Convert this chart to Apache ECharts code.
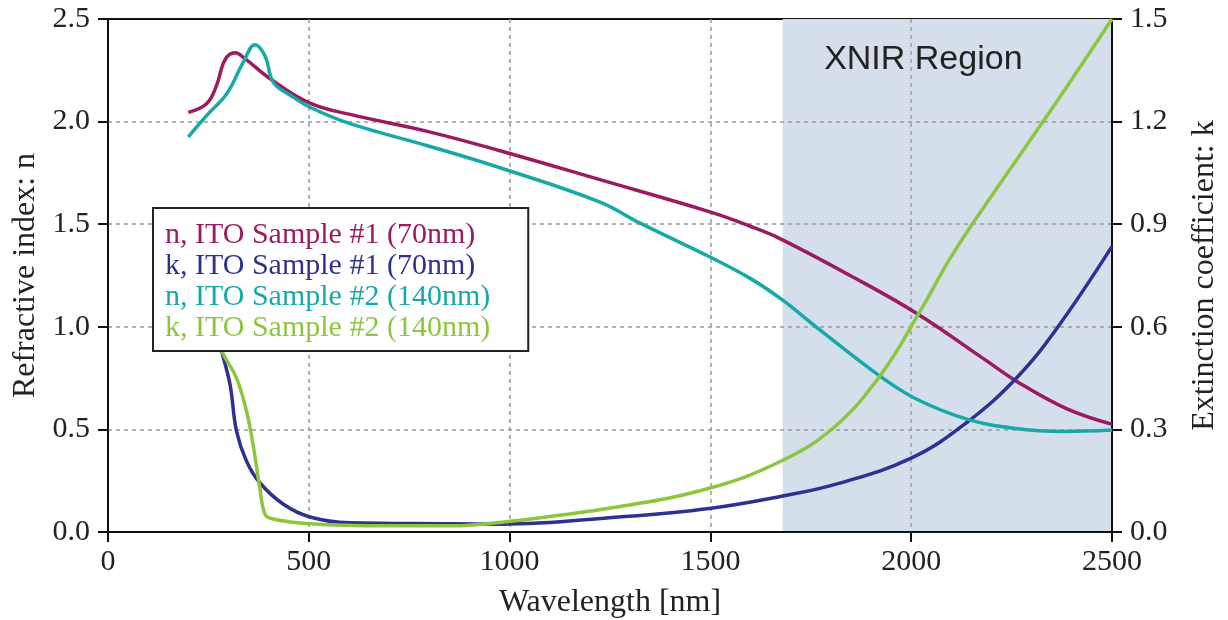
<!DOCTYPE html>
<html>
<head>
<meta charset="utf-8">
<script src="https://cdn.jsdelivr.net/npm/echarts@6/dist/echarts.min.js"></script>
<style>
  html, body { margin: 0; padding: 0; background: #fff; }
  #chart { width: 1228px; height: 620px; }
</style>
</head>
<body>
<div id="chart"></div>
<script>
// wavelength [nm] and values
var wlN1 = [200, 246, 271, 291, 316, 341, 403, 503, 603, 800, 976, 1225, 1499, 1599, 1673, 1848, 2014, 2179, 2263, 2388, 2500]
var n1 = [2.045, 2.088, 2.18, 2.30, 2.335, 2.307, 2.21, 2.09, 2.035, 1.95, 1.858, 1.717, 1.56, 1.49, 1.43, 1.25, 1.065, 0.846, 0.734, 0.60, 0.525]

var wlK1 = [265, 283, 304, 320, 345, 378, 436, 503, 603, 851, 976, 1272, 1497, 1674, 1813, 2000, 2136, 2261, 2363, 2500]
var k1 = [0.62, 0.53, 0.43, 0.295, 0.207, 0.144, 0.082, 0.044, 0.027, 0.024, 0.023, 0.044, 0.069, 0.104, 0.14, 0.216, 0.318, 0.449, 0.596, 0.835]

var wlN2 = [200, 246, 296, 337, 366, 391, 412, 453, 503, 603, 800, 976, 1225, 1325, 1499, 1599, 1680, 1763, 1922, 2014, 2139, 2255, 2380, 2500]
var n2 = [1.926, 2.03, 2.137, 2.29, 2.375, 2.32, 2.19, 2.13, 2.07, 1.99, 1.88, 1.775, 1.608, 1.505, 1.34, 1.236, 1.13, 1.0, 0.76, 0.647, 0.55, 0.506, 0.49, 0.497]

var wlK2 = [265, 283, 320, 345, 361, 378, 391, 411, 503, 685, 851, 976, 1272, 1497, 1674, 1806, 1922, 2022, 2097, 2191, 2346, 2500]
var k2 = [0.60, 0.53, 0.45, 0.353, 0.257, 0.129, 0.052, 0.038, 0.024, 0.018, 0.018, 0.028, 0.074, 0.128, 0.206, 0.304, 0.456, 0.645, 0.80, 0.967, 1.23, 1.5]

var seriesNames = ['n, ITO Sample #1 (70nm)', 'k, ITO Sample #1 (70nm)', 'n, ITO Sample #2 (140nm)', 'k, ITO Sample #2 (140nm)']
var seriesColors = ['#9c1b60', '#2e3192', '#17a8a8', '#8cc63f']
var xnirRange = [1680, 2500]

function pairs (xs, ys) {
  return xs.map(function (x, i) { return [x, ys[i]] })
}

var serif = 'Liberation Serif'
var chart = echarts.init(document.getElementById('chart'))

function lineSeries (i, xs, ys, axis) {
  return {
    name: seriesNames[i],
    type: 'line',
    yAxisIndex: axis,
    data: pairs(xs, ys),
    smooth: 0.4,
    showSymbol: false,
    z: 3,
    lineStyle: { color: seriesColors[i], width: 3.5 },
    itemStyle: { color: seriesColors[i] }
  }
}

var series = [
  lineSeries(0, wlN1, n1, 0),
  lineSeries(1, wlK1, k1, 1),
  lineSeries(2, wlN2, n2, 0),
  lineSeries(3, wlK2, k2, 1)
]
// shaded XNIR band
series[0].markArea = {
  silent: true,
  z: 1,
  itemStyle: { color: '#d5dfec' },
  label: {
    show: true,
    position: 'insideTop',
    distance: 24,
    offset: [-24, 0],
    color: '#222',
    fontFamily: 'Liberation Sans',
    fontSize: 34
  },
  data: [[{ name: 'XNIR Region', xAxis: xnirRange[0] }, { xAxis: xnirRange[1] }]]
}

var dashed = { show: true, showMinLine: false, showMaxLine: false, lineStyle: { color: '#999', width: 1.5, type: [4, 4] } }
var tickFont = { fontFamily: serif, fontSize: 30, color: '#222' }
var nameFont = { fontFamily: serif, fontSize: 32, color: '#222' }

var option = {
  animation: false,
  grid: {
    left: 108,
    right: 116,
    top: 19,
    bottom: 88,
    outerBoundsMode: 'none',
    show: true,
    borderColor: '#111',
    borderWidth: 2,
    backgroundColor: 'transparent'
  },
  legend: {
    orient: 'vertical',
    left: 153,
    top: 208,
    icon: 'none',
    itemWidth: 0,
    itemHeight: 0,
    itemGap: 1,
    padding: [12, 38, 8, 7],
    backgroundColor: '#fff',
    borderColor: '#222',
    borderWidth: 2,
    z: 5,
    textStyle: { fontFamily: serif, fontSize: 30, lineHeight: 30 },
    data: seriesNames.map(function (n, i) {
      return { name: n, textStyle: { color: seriesColors[i] } }
    })
  },
  xAxis: {
    type: 'value',
    min: 0,
    max: 2500,
    interval: 500,
    z: 2,
    name: 'Wavelength [nm]',
    nameLocation: 'middle',
    nameGap: 55,
    nameTextStyle: nameFont,
    axisLine: { lineStyle: { color: '#111', width: 2 } },
    axisTick: { inside: false, length: 10, lineStyle: { color: '#111', width: 2 } },
    axisLabel: Object.assign({ margin: 15, formatter: function (v) { return String(v) } }, tickFont),
    splitLine: dashed
  },
  yAxis: [
    {
      type: 'value',
      min: 0,
      max: 2.5,
      interval: 0.5,
      position: 'left',
      z: 2,
      name: 'Refractive index: n',
      nameLocation: 'middle',
      nameRotate: 90,
      nameGap: 58,
      nameTextStyle: nameFont,
      axisLine: { show: true, lineStyle: { color: '#111', width: 2 } },
      axisTick: { show: true, inside: false, length: 10, lineStyle: { color: '#111', width: 2 } },
      axisLabel: Object.assign({ margin: 18, formatter: function (v) { return v.toFixed(1) } }, tickFont),
      splitLine: dashed
    },
    {
      type: 'value',
      min: 0,
      max: 1.5,
      interval: 0.3,
      position: 'right',
      z: 2,
      name: 'Extinction coefficient: k',
      nameLocation: 'middle',
      nameRotate: 90,
      nameGap: 77,
      nameTextStyle: nameFont,
      axisLine: { show: true, lineStyle: { color: '#111', width: 2 } },
      axisTick: { show: true, inside: false, length: 10, lineStyle: { color: '#111', width: 2 } },
      axisLabel: Object.assign({ margin: 18, formatter: function (v) { return v.toFixed(1) } }, tickFont),
      splitLine: { show: false }
    }
  ],
  series: series
}

chart.setOption(option)
</script>
</body>
</html>
